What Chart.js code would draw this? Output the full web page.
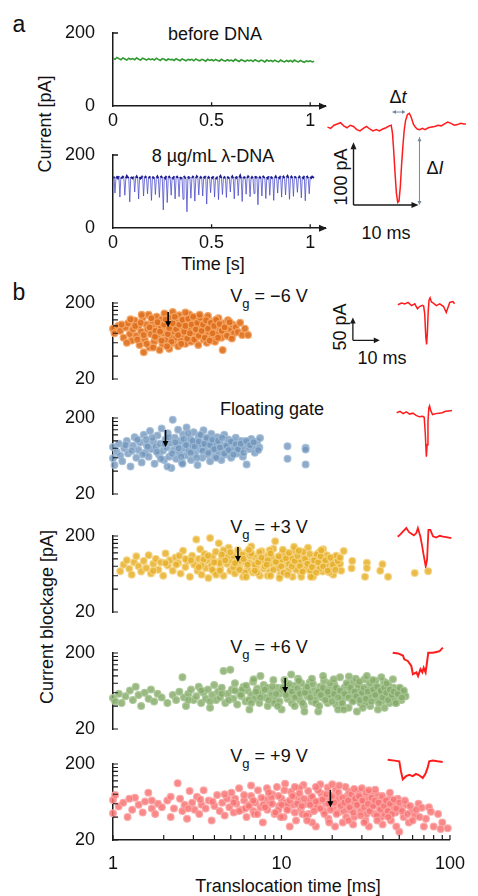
<!DOCTYPE html>
<html><head><meta charset="utf-8">
<script src="https://cdn.jsdelivr.net/npm/chart.js@4.4.1/dist/chart.umd.min.js"></script>
<style>
html,body{margin:0;padding:0;background:#fff;}
body{width:478px;height:896px;position:relative;overflow:hidden;font-family:"Liberation Sans",Arial,sans-serif;color:#111;}
canvas{position:absolute;}
.t{position:absolute;transform:translate(-50%,-50%);white-space:nowrap;font-size:18px;line-height:18px;}
.r{transform:translate(-50%,-50%) rotate(-90deg);}
.sub{font-size:13px;position:relative;top:6px;}
</style></head><body>
<div class="t" style="left:19px;top:24px;font-size:23px">a</div>
<div class="t" style="left:19px;top:292px;font-size:23px">b</div>
<div class="t" style="left:215px;top:34px">before DNA</div>
<div class="t" style="left:213px;top:156px">8 µg/mL λ-DNA</div>
<div class="t r" style="left:45px;top:124px">Current [pA]</div>
<div class="t" style="left:213px;top:264px">Time [s]</div>
<div class="t" style="left:398px;top:97px">Δ<i>t</i></div>
<div class="t" style="left:435px;top:168px">Δ<i>I</i></div>
<div class="t r" style="left:341px;top:177px">100 pA</div>
<div class="t" style="left:386px;top:233px">10 ms</div>
<div class="t r" style="left:340px;top:327px">50 pA</div>
<div class="t" style="left:382px;top:358px">10 ms</div>
<div class="t" style="left:269px;top:297px">V<span class="sub">g</span> = −6 V</div>
<div class="t" style="left:272px;top:409px">Floating gate</div>
<div class="t" style="left:269px;top:528px">V<span class="sub">g</span> = +3 V</div>
<div class="t" style="left:269px;top:648px">V<span class="sub">g</span> = +6 V</div>
<div class="t" style="left:269px;top:757px">V<span class="sub">g</span> = +9 V</div>
<div class="t r" style="left:47px;top:617px">Current blockage [pA]</div>
<div class="t" style="left:288px;top:886px">Translocation time [ms]</div>
<script>
// ---------- DATA ----------
const timeTicks = [0, 0.5, 1];
const currentTicks = [0, 200];
const greenSamplePeriod = 0.01; // s
const blueSamplePeriod = 0.005; // s
const greenCurrent = [
131,128,133,130,127,132,129,126,131,128,
130,127,132,128,126,131,129,126,130,127,
129,126,131,128,125,130,128,125,129,127,
128,125,130,127,124,129,127,124,128,126,
128,124,129,126,124,128,126,123,128,125,
127,124,128,125,123,128,125,123,127,124,
126,123,128,125,122,127,125,122,126,124,
126,122,127,124,122,126,124,121,126,123,
125,122,126,123,121,126,123,121,125,122,
125,121,126,123,121,125,122,120,124,122,
124,121,123];
const blueCurrent = [
138,141,96,137,140,136,142,85,139,137,141,138,90,136,143,139,137,72,140,138,
136,141,99,138,142,137,80,140,136,139,143,88,137,141,138,94,136,140,139,76,
141,137,139,92,138,142,136,84,139,141,137,50,140,136,143,70,138,141,137,90,
139,136,142,80,138,141,137,86,140,136,139,79,143,138,136,45,141,137,140,82,
137,141,138,74,136,142,139,91,137,140,136,88,141,138,143,66,137,140,136,97,
140,137,142,85,138,136,141,78,139,143,137,92,136,140,138,84,141,137,139,99,
138,142,136,80,140,137,141,89,138,144,136,73,140,138,141,93,137,142,139,86,
136,140,137,95,142,138,141,64,137,140,136,88,143,139,137,81,140,136,142,90,
141,137,139,76,138,142,136,96,140,137,143,85,138,141,136,91,139,143,137,79,
138,141,136,87,142,139,137,98,136,141,138,83,140,137,143,75,139,141,136,94,
140,137,141,139,138];

// single event (panel a inset): time [ms], current relative to baseline [pA]
const eventTime = [0,0.5,1.0,1.5,2.0,2.5,3.0,3.5,4.0,4.5,5.0,5.5,6.0,6.5,7.0,7.5,8.0,8.5,9.0,9.5,9.8,10.0,10.2,10.4,10.6,10.8,11.0,11.2,11.4,11.6,11.8,12.0,12.3,12.6,12.9,13.2,13.5,13.8,14.2,14.6,15.0,15.5,16.0,16.5,17.0,17.5,18.0,18.5,19.0,19.5,20.0,20.5,21.0,21.3];
const eventCurrent = [0,-2,3,5,7,2,-1,3,1,-4,-6,-2,1,-3,-6,-4,-6,-3,-1,2,3,-10,-40,-75,-105,-120,-118,-95,-60,-30,-5,10,20,22,15,5,0,-3,-4,-2,-4,-1,0,1,3,2,5,8,6,3,4,6,5,5];

// example events (panel b insets)
const exM6Time = [0,1.4,2.6,3.8,5.1,6.3,7.3,8.1,9.1,9.6,10.0,10.4,10.7,11.0,11.3,11.6,12.0,12.5,13.1,14.3,15.6,17.0,18.0,19.3,20.5,21.1];
const exM6Current = [0,3.6,1.5,5,-2,2,-9,-4,-1.5,-3,-20,-70,-87,-60,-15,10,15,6,4,-2,2,-4,-17,5,7,2];
const exFlTime = [0,1.2,2.4,3.6,4.8,6.0,7.2,8.4,9.6,10.2,10.6,11.0,11.3,11.6,11.9,12.2,12.6,13.3,14.5,15.7,16.9,18.1,19.3,20.5];
const exFlCurrent = [0,3,-2,2,-3,-1,-6,-9,-8,-10,-45,-96,-70,-20,10,15,5,-4,-2,-1,0,3,4,5];
const exP3Time = [0,1.0,2.0,3.2,4.2,5.1,6.0,6.9,7.5,8.4,9.1,9.6,10.4,10.9,11.4,12.1,13.1,14.3,15.6,16.8,18.0,19.9];
const exP3Current = [0,5,11.5,19,10,6.5,3,8,19,0.7,-21,-39,-65,-50,15,15,0.7,-2,2,0,-1,-3];
const exP6Time = [0,2.0,3.8,4.3,5.6,6.9,7.5,8.8,9.4,10.3,11.0,11.5,12.2,12.7,13.2,14.9,16.2,17.4,18.6];
const exP6Current = [0,-1.5,-6,-14.5,-18,-29,-47,-43,-51,-36,-43,-33,-43,-22,0,0,1.5,3.5,11];
const exP9Time = [0,2.5,4.3,4.9,5.6,6.8,8.0,9.3,10.5,11.7,13.0,14.0,14.8,15.4,16.7,18.5,20.4];
const exP9Current = [0,-2,-3.6,-25,-43,-36,-33,-36,-31,-34,-40,-31,-18,-3.6,-2,-3.6,-5];

// scatter: [translocation time ms, current blockage pA]
const eventsVgMinus6 = [
[1.0,92],[1.02,80],[1.07,100],[1.1,86],[1.15,70],[1.18,95],[1.22,108],[1.25,78],[1.28,64],[1.3,90],
[1.33,118],[1.36,74],[1.4,98],[1.42,56],[1.45,84],[1.48,128],[1.5,45],[1.52,66],[1.55,104],[1.58,90],
[1.6,140],[1.62,52],[1.65,78],[1.68,115],[1.7,96],[1.72,62],[1.75,86],[1.78,132],[1.8,70],[1.82,105],
[1.85,48],[1.88,92],[1.9,122],[1.92,58],[1.95,80],[1.97,145],[2.0,100],[2.02,66],[2.05,112],[2.08,86],
[2.1,50],[2.12,128],[2.15,74],[2.18,96],[2.2,152],[2.22,60],[2.25,84],[2.28,118],[2.3,70],[2.33,102],
[2.36,54],[2.4,138],[2.42,88],[2.45,64],[2.48,110],[2.5,78],[2.53,96],[2.56,126],[2.6,58],[2.63,84],
[2.66,106],[2.7,72],[2.73,142],[2.76,92],[2.8,62],[2.84,116],[2.88,80],[2.92,100],[2.96,68],[3.0,130],
[3.04,88],[3.08,56],[3.12,110],[3.16,76],[3.2,96],[3.25,122],[3.3,66],[3.35,86],[3.4,104],[3.45,60],
[3.5,135],[3.55,80],[3.6,96],[3.66,70],[3.72,114],[3.78,88],[3.84,62],[3.9,102],[3.96,78],[4.02,126],
[4.1,92],[4.18,70],[4.25,48],[4.32,108],[4.4,84],[4.48,96],[4.56,119],[4.65,72],[4.74,90],[4.84,104],
[4.94,80],[5.05,96],[5.2,83],[5.35,110],[5.5,76],[5.7,92],[5.94,76],
[1.12,104],[1.2,60],[1.26,122],[1.34,100],[1.38,66],[1.44,110],[1.5,76],[1.56,58],[1.62,96],[1.66,126],
[1.74,72],[1.8,112],[1.86,84],[1.9,64],[1.96,104],[2.0,122],[2.06,78],[2.1,94],[2.16,62],[2.2,108],
[2.26,132],[2.3,90],[2.36,76],[2.4,104],[2.46,58],[2.5,120],[2.56,84],[2.6,100],[2.66,68],[2.7,124],
[2.76,80],[2.82,104],[2.88,132],[2.92,66],[2.98,90],[3.04,110],[3.1,74],[3.16,128],[3.22,86],[3.28,104],
[3.36,70],[3.42,118],[3.5,92],[3.58,64],[3.64,110],[3.72,80],[3.8,100],[3.9,120],[4.0,70],[4.08,106],
[4.2,86],[4.36,96],[4.5,74],[4.66,112],[4.8,68],[1.46,140],[1.7,52],[2.04,54],[2.6,150],[3.14,140]];
const eventsFloating = [
[1.0,83],[1.0,59],[1.02,48],[1.05,72],[1.08,92],[1.1,64],[1.13,54],[1.16,80],[1.2,100],[1.22,68],
[1.26,46],[1.3,86],[1.33,112],[1.36,60],[1.4,76],[1.43,95],[1.46,52],[1.5,120],[1.53,70],[1.56,88],
[1.6,62],[1.63,135],[1.66,78],[1.7,98],[1.73,50],[1.76,84],[1.8,118],[1.83,66],[1.86,92],[1.9,145],
[1.93,74],[1.96,56],[2.0,104],[2.03,82],[2.06,126],[2.1,62],[2.13,94],[2.16,44],[2.2,189],[2.23,76],
[2.26,110],[2.3,58],[2.33,88],[2.36,140],[2.4,70],[2.44,100],[2.48,52],[2.52,122],[2.56,80],[2.6,64],
[2.64,150],[2.68,92],[2.72,74],[2.76,108],[2.8,56],[2.85,86],[2.9,130],[2.95,68],[3.0,96],[3.05,48],
[3.1,116],[3.15,78],[3.2,90],[3.25,60],[3.3,138],[3.36,84],[3.42,104],[3.48,66],[3.54,92],[3.6,54],
[3.66,124],[3.72,76],[3.78,98],[3.84,62],[3.9,86],[3.96,112],[4.03,70],[4.1,94],[4.18,56],[4.26,80],
[4.34,120],[4.42,66],[4.5,90],[4.58,104],[4.66,74],[4.75,60],[4.85,96],[4.95,82],[5.05,110],[5.15,68],
[5.25,88],[5.35,76],[5.45,100],[5.55,62],[5.65,84],[5.83,49],[5.9,94],[6.05,78],[6.2,106],[6.35,86],
[6.5,70],[6.7,98],[6.96,109],[6.9,82],
[1.18,88],[1.28,74],[1.38,104],[1.48,66],[1.58,84],[1.68,110],[1.78,72],[1.88,58],[1.98,92],[2.08,112],
[2.18,68],[2.28,96],[2.38,80],[2.46,62],[2.54,106],[2.62,88],[2.7,126],[2.78,70],[2.86,100],[2.94,84],
[3.02,60],[3.1,98],[3.18,120],[3.26,74],[3.34,92],[3.44,110],[3.52,70],[3.6,88],[3.7,104],[3.8,78],
[3.9,60],[4.0,100],[4.1,82],[4.22,110],[4.34,68],[4.46,86],[4.6,76],[4.74,98],[4.9,66],[5.05,90],
[5.2,78],[5.4,92],[5.6,70],[5.8,100],[6.1,88],[6.4,96],[6.8,76],[1.55,104],[2.05,46],[2.5,50],
[10.0,85],[10.0,58],[12.7,81],[12.7,77],[12.7,49]];
const eventsVgPlus3 = [
[1.1,69],[1.15,84],[1.2,96],[1.24,74],[1.28,62],[1.32,90],[1.36,108],[1.4,80],[1.45,68],[1.5,94],
[1.55,76],[1.6,112],[1.65,64],[1.7,86],[1.76,100],[1.82,72],[1.88,90],[1.94,60],[2.0,118],[2.06,82],
[2.12,96],[2.2,70],[2.28,104],[2.36,88],[2.44,64],[2.52,128],[2.6,78],[2.68,94],[2.76,58],[2.84,110],
[2.92,84],[3.0,180],[3.05,70],[3.1,100],[3.16,134],[3.22,62],[3.28,88],[3.34,116],[3.4,76],[3.46,96],
[3.52,56],[3.6,188],[3.66,82],[3.72,106],[3.8,68],[3.88,124],[3.96,90],[4.04,160],[4.12,74],[4.2,100],
[4.3,60],[4.4,118],[4.5,86],[4.6,140],[4.7,70],[4.8,96],[4.9,110],[5.0,64],[5.1,84],[5.2,130],
[5.32,76],[5.44,102],[5.56,58],[5.68,92],[5.8,120],[5.92,72],[6.05,88],[6.2,146],[6.35,66],[6.5,104],
[6.65,80],[6.8,96],[6.95,60],[7.1,126],[7.3,74],[7.5,90],[7.7,110],[7.9,68],[8.1,86],[8.3,136],
[8.5,170],[8.7,78],[8.9,100],[9.1,62],[9.35,118],[9.6,84],[9.85,94],[10.1,70],[10.4,108],[10.7,58],
[11.0,128],[11.3,80],[11.6,96],[11.9,66],[12.2,112],[12.5,86],[12.8,74],[13.1,140],[13.5,92],[13.9,62],
[14.3,104],[14.7,78],[15.1,120],[15.5,88],[15.9,68],[16.3,98],[16.8,112],[17.3,76],[17.8,90],[18.3,62],
[18.8,104],[19.3,82],[19.8,96],[20.3,70],
[3.3,98],[3.7,72],[4.1,88],[4.5,104],[4.9,78],[5.3,94],[5.7,66],[6.1,110],[6.5,84],[6.9,122],
[7.3,96],[7.7,60],[8.1,104],[8.5,90],[8.9,76],[9.3,98],[9.7,116],[10.2,86],[10.7,100],[11.2,72],
[11.7,90],[12.3,124],[12.9,96],[13.5,70],[14.1,86],[14.7,114],[15.3,74],[15.9,100],[16.6,84],[17.4,66],
[18.2,92],[19.0,110],[4.3,130],[5.5,114],[7.9,130],[10.9,144],[6.7,66],[9.0,56],[12.0,58],[3.9,62],
[2.6,100],[2.3,84],[16.0,134],[14.0,58],[18.0,78],[20.0,86],
[3.2,82],[3.5,110],[3.8,90],[4.1,70],[4.4,96],[4.7,122],[5.0,88],[5.3,72],[5.6,100],[5.9,84],
[6.2,118],[6.5,70],[6.8,90],[7.1,104],[7.4,80],[7.7,96],[8.0,118],[8.3,72],[8.6,92],[8.9,108],
[9.2,80],[9.5,66],[9.8,102],[10.2,120],[10.6,80],[11.0,94],[11.4,110],[11.8,80],[12.2,68],[12.6,100],
[13.0,86],[13.4,116],[13.8,78],[14.2,96],[14.6,66],[15.0,90],[15.5,108],[16.0,80],[16.5,96],[17.0,70],
[17.6,104],[18.2,84],[18.8,72],[19.4,94],[20.0,104],[2.8,96],[3.1,78],[2.4,110],[2.0,88],[1.7,70],
[4.2,114],[6.0,132],[7.6,84],[9.4,132],[11.6,128],[13.6,58],[15.6,130],[5.8,58],[8.0,60],[10.0,62],
[21,127],[23.5,94],[23.3,75],[28.5,89],[28.5,76],[27.8,58],[34,70],[35,85],[37.7,58],[53.6,65],[64,69]];
const eventsVgPlus6 = [
[1.0,51],[1.03,46],[1.08,58],[1.12,44],[1.18,54],[1.25,64],[1.3,48],[1.35,72],[1.4,56],[1.45,40],
[1.52,60],[1.6,50],[1.65,66],[1.72,46],[1.8,58],[1.9,52],[2.05,44],[2.2,56],[2.3,48],[2.4,62],
[2.5,96],[2.55,52],[2.62,40],[2.7,58],[2.8,66],[2.9,48],[3.0,54],[3.1,72],[3.2,44],[3.3,60],
[3.4,50],[3.5,66],[3.6,38],[3.7,56],[3.8,76],[3.9,48],[4.0,62],[4.1,52],[4.2,70],[4.3,116],
[4.4,44],[4.55,58],[4.7,120],[4.8,66],[4.9,50],[5.0,80],[5.15,42],[5.3,60],[5.45,54],[5.6,72],
[5.75,46],[5.9,64],[6.05,36],[6.2,56],[6.35,84],[6.5,50],[6.7,68],[6.9,44],[7.1,60],[7.3,76],
[7.5,52],[7.7,40],[7.9,64],[8.1,56],[8.3,88],[8.5,48],[8.75,70],[9.0,58],[9.25,36],[9.5,62],
[9.75,80],[10.0,50],[10.3,66],[10.6,44],[10.9,74],[11.2,56],[11.5,92],[11.8,48],[12.1,62],[12.4,40],
[12.7,70],[13.0,54],[13.4,82],[13.8,46],[14.2,64],[14.6,58],[15.0,34],[15.4,72],[15.8,52],[16.2,86],
[16.6,60],[17.0,44],[17.5,68],[18.0,54],[18.5,78],[19.0,42],[19.5,62],[20.0,96],[20.6,50],[21.2,70],
[21.8,56],[22.4,38],[23.0,64],[23.6,82],[24.2,48],[24.8,60],[25.5,72],[26.2,44],[26.9,58],[27.6,90],
[28.3,52],[29.0,66],[29.8,40],[30.6,62],[31.4,76],[32.2,50],[33.0,58],[33.9,70],[34.8,46],[35.7,84],
[36.6,54],[37.5,64],[38.5,44],[39.5,58],[40.5,70],[41.5,50],[42.6,62],[43.7,56],[45.0,48],[46.3,60],
[47.5,54],
[5.5,66],[6.0,48],[6.8,58],[7.6,70],[8.4,44],[9.2,66],[10.2,58],[11.0,40],[12.0,80],[13.2,60],
[14.4,48],[15.6,64],[17.2,56],[18.8,66],[20.4,40],[22.0,74],[24.0,56],[26.0,66],[28.0,44],[30.0,54],
[32.0,86],[34.0,60],[36.0,38],[38.0,74],[40.0,52],[42.0,44],[44.0,66],[7.0,100],[10.5,104],[16.0,100],
[22.5,98],[28.5,100],[34.5,96],[40.2,90],[12.5,34],[19.5,36],[25.0,34],[33.0,36],
[4.2,58],[4.6,48],[5.0,64],[5.4,56],[5.8,74],[6.2,44],[6.6,62],[7.0,52],[7.4,66],[7.8,48],
[8.2,72],[8.6,58],[9.0,46],[9.4,70],[9.8,56],[10.2,78],[10.6,62],[11.0,52],[11.4,68],[11.8,58],
[12.2,44],[12.6,60],[13.0,72],[13.5,52],[14.0,78],[14.5,44],[15.0,62],[15.5,56],[16.0,70],[16.5,48],
[17.0,62],[17.5,80],[18.0,46],[18.5,58],[19.0,70],[19.5,52],[20.0,64],[20.6,44],[21.2,58],[21.8,80],
[22.4,52],[23.0,70],[23.6,46],[24.2,62],[24.8,54],[25.4,76],[26.0,48],[26.7,60],[27.4,70],[28.1,50],
[28.8,62],[29.5,80],[30.2,46],[31.0,66],[31.8,56],[32.6,72],[33.4,44],[34.2,64],[35.0,52],[35.9,70],
[36.8,60],[37.7,48],[38.6,66],[39.6,56],[40.6,62],[41.7,44],[42.8,58],[44.0,70],[45.2,52],[46.4,64],
[6.4,90],[9.6,88],[13.8,92],[18.4,90],[24.6,92],[30.8,88],[37.0,80],[15.2,40],[21.0,36],[27.0,38],
[8.8,40],[11.6,86],[25.8,84],[3.6,46],[3.2,64],[2.7,48]];
const eventsVgPlus9 = [
[1.0,67],[1.0,45],[1.03,78],[1.08,55],[1.15,62],[1.22,40],[1.3,50],[1.35,72],[1.42,58],[1.5,46],
[1.55,64],[1.62,84],[1.7,52],[1.78,44],[1.85,60],[1.95,54],[2.1,66],[2.2,40],[2.3,52],[2.42,112],
[2.5,70],[2.58,48],[2.66,58],[2.75,38],[2.85,88],[2.95,62],[3.05,50],[3.15,74],[3.25,44],[3.35,58],
[3.45,90],[3.55,52],[3.7,66],[3.85,36],[4.0,56],[4.15,78],[4.3,48],[4.45,62],[4.6,42],[4.75,70],
[4.9,54],[5.05,84],[5.2,46],[5.4,60],[5.6,96],[5.8,50],[6.0,66],[6.2,40],[6.4,58],[6.6,76],
[6.8,48],[7.0,62],[7.25,90],[7.5,54],[7.75,34],[8.0,68],[8.25,50],[8.5,60],[8.8,80],[9.1,44],
[9.4,100],[9.7,56],[10.0,70],[10.3,40],[10.6,62],[11.0,50],[11.4,86],[11.8,58],[12.2,36],[12.6,66],
[13.0,52],[13.5,106],[14.0,60],[14.5,44],[15.0,74],[15.5,56],[16.0,30],[16.6,64],[17.2,82],[17.8,48],
[18.4,60],[19.0,38],[19.6,70],[20.3,54],[21.0,92],[21.7,46],[22.4,62],[23.1,34],[23.8,58],[24.6,76],
[25.4,50],[26.2,66],[27.0,40],[27.8,56],[28.7,88],[29.6,48],[30.5,62],[31.5,36],[32.5,70],[33.5,52],
[34.6,60],[35.7,44],[36.8,78],[38.0,54],[39.2,40],[40.5,64],[41.8,50],[43.2,58],[44.6,36],[46.0,60],
[47.5,46],[49.0,70],[50.0,25.6],[51.0,52],[53.0,40],[55.0,58],[57.0,34],[59.0,48],[62.0,42],[65.0,60],
[68.0,53],[72.0,38],[75.0,54],[80.0,30],[85.0,44],[90.0,34],[97.0,28.5],[88.0,28],[77.0,47],[70.0,30],
[5.3,70],[6.1,52],[6.9,44],[7.8,58],[8.7,72],[9.6,50],[10.8,58],[12.0,76],[13.3,44],[14.7,66],
[16.3,54],[18.0,72],[19.8,60],[21.6,70],[23.4,48],[25.2,86],[27.4,62],[29.8,74],[32.0,44],[34.0,82],
[36.2,58],[38.6,68],[41.0,44],[43.8,70],[46.5,54],[11.2,30],[15.2,34],[20.8,30],[26.6,32],[33.0,30],
[39.8,32],[48.0,30],[8.2,96],[12.8,96],[18.8,98],[24.0,100],[30.0,96],[36.0,92],[44.0,84],[6.6,104],
[10.5,110],[17.0,108],[22.0,104],
[5.2,62],[5.6,48],[6.0,78],[6.4,56],[6.8,66],[7.2,44],[7.6,72],[8.0,54],[8.4,84],[8.8,60],
[9.2,46],[9.6,76],[10.0,58],[10.4,90],[10.8,50],[11.2,66],[11.6,76],[12.0,46],[12.4,60],[12.8,82],
[13.2,56],[13.6,70],[14.0,42],[14.4,88],[14.8,58],[15.2,74],[15.6,48],[16.0,64],[16.5,90],[17.0,52],
[17.5,68],[18.0,44],[18.5,80],[19.0,60],[19.5,50],[20.0,76],[20.6,62],[21.2,44],[21.8,84],[22.4,56],
[23.0,72],[23.6,62],[24.2,40],[24.8,66],[25.4,54],[26.0,80],[26.7,46],[27.4,70],[28.1,58],[28.8,76],
[29.5,42],[30.2,66],[31.0,54],[31.8,84],[32.6,60],[33.4,48],[34.2,72],[35.0,56],[35.9,66],[36.8,42],
[37.7,62],[38.6,50],[39.6,76],[40.6,56],[41.7,66],[42.8,48],[44.0,60],[45.2,44],[46.4,68],[48.0,52],
[50.0,62],[52.0,48],[54.0,66],[56.0,44],[58.0,56],[60.0,36],[63.0,50],[66.0,40],[4.6,80],[3.9,64],
[3.3,68],[2.8,52],[2.2,74],[1.7,66],[1.25,70],[9.9,40],[14.2,36],[19.2,34],[25.0,36],[31.0,34],
[37.0,36],[43.0,40],[16.0,100],[27.0,94],[33.0,90],[12.0,100],[20.0,108]];
const blockageTicks = [20,40,60,80,100,120,140,160,180,200];
const blockageLabels = [20,200];
const timeMajorTicks = [1,10,100];
const timeMinorTicks = [2,3,4,5,6,7,8,9,20,30,40,50,60,70,80,90];
// median markers (arrows): time ms, arrow from / to current pA
const medianTime = [2.07, 2.0, 5.2, 9.7, 19.5];
const arrowFrom = [152, 139, 143, 94, 91];
const arrowTo = [96, 83, 91, 59.5, 54];

// ---------- DRAWING ----------
Chart.defaults.font.family = '"Liberation Sans", Arial, sans-serif';
Chart.defaults.font.size = 18;
Chart.defaults.color = '#111';
const AX = '#1a1a1a';
const PAD = 32;

function addCanvas(l, t, w, h){
  const c = document.createElement('canvas');
  c.width = Math.round(w); c.height = Math.round(h);
  c.style.left = Math.round(l)+'px'; c.style.top = Math.round(t)+'px';
  document.body.appendChild(c);
  return c;
}
function head(ctx, x, y, ang, len, half){
  ctx.beginPath();
  ctx.moveTo(x, y);
  ctx.lineTo(x - len*Math.cos(ang) + half*Math.sin(ang), y - len*Math.sin(ang) - half*Math.cos(ang));
  ctx.lineTo(x - len*Math.cos(ang) - half*Math.sin(ang), y - len*Math.sin(ang) + half*Math.cos(ang));
  ctx.closePath(); ctx.fill();
}
function arrow(ctx, x1, y1, x2, y2, color, w, len, half, both){
  ctx.save();
  ctx.strokeStyle = color; ctx.fillStyle = color; ctx.lineWidth = w;
  const a = Math.atan2(y2-y1, x2-x1);
  ctx.beginPath(); ctx.moveTo(x1, y1); ctx.lineTo(x2 - len*0.6*Math.cos(a), y2 - len*0.6*Math.sin(a)); ctx.stroke();
  head(ctx, x2, y2, a, len, half);
  if (both) head(ctx, x1, y1, a + Math.PI, len, half);
  ctx.restore();
}
const noLegend = {legend:{display:false}, tooltip:{enabled:false}};
const border = {display:true, color:AX, width:1.5};

// time traces
function tracePanel(top, values, period, color, spikeColor, lw, id){
  const h = 74, extra = 28;
  const cv = addCanvas(0, top - PAD, 478, PAD + h + extra);
  new Chart(cv, {
    type:'line',
    data:{datasets:[{data: values.map((v,i)=>({x:i*period, y:v})), borderColor:color, borderWidth:lw, pointRadius:0, tension:0, fill:false,
      segment:{borderColor: c => Math.min(c.p0.parsed.y, c.p1.parsed.y) < 115 ? spikeColor : color,
               borderWidth: c => Math.min(c.p0.parsed.y, c.p1.parsed.y) < 115 ? 1 : lw}}]},
    options:{
      responsive:false, animation:false, events:[],
      layout:{padding:{top:PAD, right:153, left:0, bottom:0}},
      plugins:noLegend,
      scales:{
        x:{type:'linear', min:0, max:1.075, afterFit(s){s.height = extra;},
           afterBuildTicks(s){s.ticks = timeTicks.map(v=>({value:v}));},
           ticks:{autoSkip:false, maxRotation:0, padding:4, callback:v=>String(v)},
           grid:{display:false, drawTicks:false}, border},
        y:{type:'linear', min:0, max:200, afterFit(s){s.width = 113;},
           afterBuildTicks(s){s.ticks = currentTicks.map(v=>({value:v}));},
           ticks:{autoSkip:false, padding:18, callback:v=>String(v)},
           grid:{display:false, drawTicks:false}, border}
      }
    },
    plugins:[{id:'deco'+id, afterDraw(ch){
      const ctx = ch.ctx, a = ch.chartArea, x = ch.scales.x, y = ch.scales.y;
      ctx.save(); ctx.strokeStyle = AX; ctx.lineWidth = 1.3;
      ctx.beginPath();
      const py = y.getPixelForValue(200); ctx.moveTo(a.left, py); ctx.lineTo(a.left+5, py);
      [0.5, 1].forEach(v=>{const px = x.getPixelForValue(v); ctx.moveTo(px, a.bottom); ctx.lineTo(px, a.bottom-4);});
      ctx.stroke(); ctx.fillStyle = AX;
      head(ctx, a.right+2, a.bottom, 0, 8, 3.5);
      ctx.restore();
    }}]
  });
}
tracePanel(33, greenCurrent, greenSamplePeriod, '#2f9a2f', '#2f9a2f', 1.6, 'g');
tracePanel(155, blueCurrent, blueSamplePeriod, '#1d1d8e', 'rgba(70,70,200,0.75)', 1.8, 'b');

// event insets
function inset(sx, by, pxMs, pxPA, xr, yr, T, I, lw, id, deco){
  const l = sx + xr[0]*pxMs, t = by - yr[1]*pxPA;
  const w = (xr[1]-xr[0])*pxMs, h = (yr[1]-yr[0])*pxPA;
  const cv = addCanvas(l, t, w, h);
  new Chart(cv, {
    type:'line',
    data:{datasets:[{data:T.map((v,i)=>({x:v, y:I[i]})), borderColor:'#ff1c1c', borderWidth:lw, pointRadius:0, tension:0, fill:false, clip:false}]},
    options:{responsive:false, animation:false, events:[], layout:{padding:0}, plugins:noLegend,
      scales:{x:{type:'linear', min:xr[0], max:xr[1], display:false}, y:{type:'linear', min:yr[0], max:yr[1], display:false}}},
    plugins: deco ? [{id:'ins'+id, afterDraw(ch){deco(ch.ctx, ch.scales.x, ch.scales.y);}}] : []
  });
}
inset(327, 127, 6.5, 0.629, [-1, 23], [-140, 40], eventTime, eventCurrent, 1.5, 'a', (ctx, x, y)=>{
  const cx = x.getPixelForValue(4), cy = y.getPixelForValue(-124);
  ctx.save(); ctx.strokeStyle = AX; ctx.lineWidth = 1.4;
  ctx.beginPath(); ctx.moveTo(cx, cy); ctx.lineTo(cx, y.getPixelForValue(-24)+3); ctx.moveTo(cx, cy); ctx.lineTo(x.getPixelForValue(14)-3, cy); ctx.stroke();
  ctx.fillStyle = AX;
  head(ctx, cx, y.getPixelForValue(-24), -Math.PI/2, 7, 3);
  head(ctx, x.getPixelForValue(14), cy, 0, 7, 3);
  ctx.restore();
  arrow(ctx, x.getPixelForValue(14.15), y.getPixelForValue(-16), x.getPixelForValue(14.15), y.getPixelForValue(-124), '#7688a0', 1, 4, 2, true);
  arrow(ctx, x.getPixelForValue(10.0), y.getPixelForValue(24), x.getPixelForValue(12.0), y.getPixelForValue(24), '#7688a0', 1, 3.5, 2, true);
});
inset(398, 305, 2.7, 0.46, [-20, 22], [-110, 30], exM6Time, exM6Current, 1.5, 'm6', (ctx, x, y)=>{
  const cx = x.getPixelForValue(-16.7), cy = y.getPixelForValue(-78);
  ctx.save(); ctx.strokeStyle = AX; ctx.lineWidth = 1.3;
  ctx.beginPath(); ctx.moveTo(cx, cy); ctx.lineTo(cx, y.getPixelForValue(-28)+3); ctx.moveTo(cx, cy); ctx.lineTo(x.getPixelForValue(-6.7)-3, cy); ctx.stroke();
  ctx.fillStyle = AX;
  head(ctx, cx, y.getPixelForValue(-28), -Math.PI/2, 6, 2.8);
  head(ctx, x.getPixelForValue(-6.7), cy, 0, 6, 2.8);
  ctx.restore();
});
inset(397, 413, 2.7, 0.46, [-1, 22], [-110, 30], exFlTime, exFlCurrent, 1.5, 'fl');
inset(398, 537, 2.7, 0.46, [-1, 22], [-110, 30], exP3Time, exP3Current, 1.8, 'p3');
inset(393, 653, 2.7, 0.46, [-1, 22], [-110, 30], exP6Time, exP6Current, 2, 'p6');
inset(388, 760, 2.7, 0.46, [-1, 22], [-110, 30], exP9Time, exP9Current, 2, 'p9');

// scatter panels
const panels = [
  {top:303, pts:eventsVgMinus6, fill:'rgba(222,112,30,0.92)', border:'rgba(245,165,100,0.95)'},
  {top:418, pts:eventsFloating, fill:'rgba(112,148,186,0.78)', border:'rgba(160,188,215,0.85)'},
  {top:536, pts:eventsVgPlus3, fill:'rgba(230,175,40,0.85)', border:'rgba(245,212,130,0.9)'},
  {top:653, pts:eventsVgPlus6, fill:'rgba(135,172,108,0.85)', border:'rgba(170,200,150,0.9)'},
  {top:764, pts:eventsVgPlus9, fill:'rgba(248,115,115,0.85)', border:'rgba(252,165,165,0.9)', bottom:true}
];
panels.forEach((p, i)=>{
  const h = 76, extra = p.bottom ? 62 : PAD;
  const cv = addCanvas(0, p.top - PAD, 478, PAD + h + extra);
  new Chart(cv, {
    type:'scatter',
    data:{datasets:[{data:p.pts.map(q=>({x:q[0], y:q[1]})), backgroundColor:p.fill, borderColor:p.border, borderWidth:1.2, pointRadius:3.4, clip:false}]},
    options:{
      responsive:false, animation:false, events:[],
      layout:{padding:{top:PAD, right:16, left:0, bottom:p.bottom ? 0 : PAD}},
      plugins:noLegend,
      scales:{
        x:{type:'logarithmic', min:1, max:100, display:!!p.bottom,
           afterFit(s){ if (p.bottom) s.height = 62; },
           afterBuildTicks(s){s.ticks = timeMajorTicks.map(v=>({value:v}));},
           ticks:{autoSkip:false, maxRotation:0, padding:13, callback:v=>String(v)},
           grid:{display:false, drawTicks:false}, border},
        y:{type:'logarithmic', min:20, max:200,
           afterFit(s){s.width = 113;},
           afterBuildTicks(s){s.ticks = blockageTicks.map(v=>({value:v}));},
           ticks:{autoSkip:false, padding:18, callback:v=>blockageLabels.includes(v) ? String(v) : ''},
           grid:{display:false, drawTicks:false}, border}
      }
    },
    plugins:[{id:'sc'+i, afterDraw(ch){
      const ctx = ch.ctx, a = ch.chartArea, x = ch.scales.x, y = ch.scales.y;
      ctx.save(); ctx.strokeStyle = AX; ctx.lineWidth = 1.2;
      ctx.beginPath();
      blockageTicks.forEach(v=>{const py = y.getPixelForValue(v); ctx.moveTo(a.left, py); ctx.lineTo(a.left+5, py);});
      if (p.bottom){
        timeMajorTicks.concat(timeMinorTicks).forEach(v=>{const px = x.getPixelForValue(v); ctx.moveTo(px, a.bottom); ctx.lineTo(px, a.bottom-5);});
      }
      ctx.stroke(); ctx.restore();
      arrow(ctx, x.getPixelForValue(medianTime[i]), y.getPixelForValue(arrowFrom[i]), x.getPixelForValue(medianTime[i]), y.getPixelForValue(arrowTo[i]), '#000', 1.6, 6, 3, false);
    }}]
  });
});
</script>
</body></html>
